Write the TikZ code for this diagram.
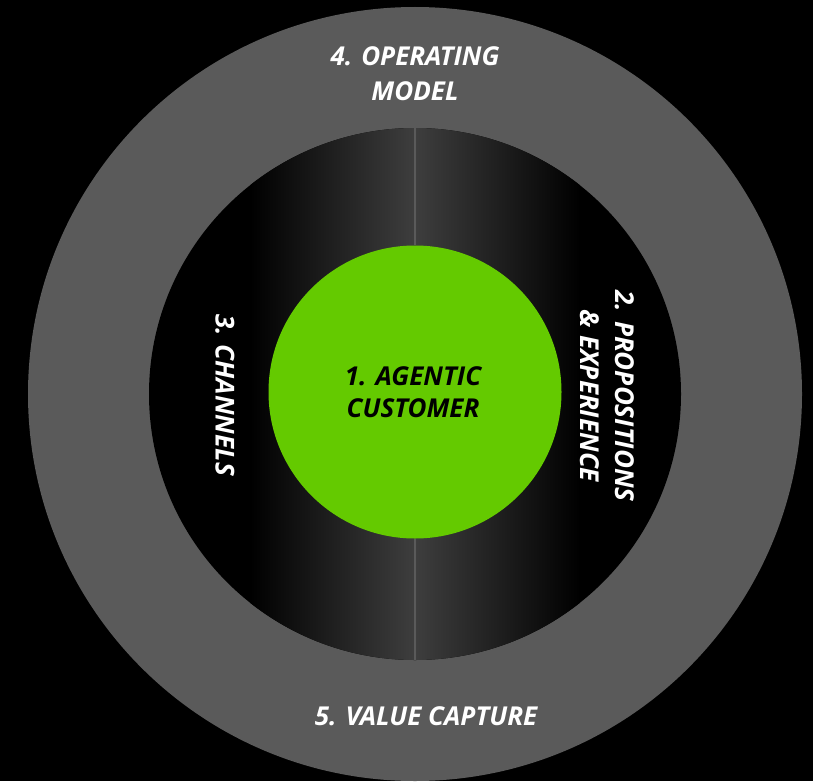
\documentclass[tikz,border=0pt]{standalone}
\usepackage{fontspec}
\setmainfont{Open Sans}
\definecolor{ringgray}{HTML}{5A5A5A}
\definecolor{innergray}{HTML}{3E3E3E}
\definecolor{coregreen}{HTML}{64CA00}
\tikzset{
  label text/.style={text=white, font=\fontsize{26}{35}\selectfont\bfseries\itshape, align=center, inner sep=0pt},
  core text/.style={text=black, font=\fontsize{26}{32}\selectfont\bfseries\itshape, align=center},
  divider/.style={draw=ringgray, line width=1.6pt}
}
\begin{document}
\begin{tikzpicture}[x=1pt,y=-1pt]
  \useasboundingbox (0,0) rectangle (813,781);
  \fill[black] (0,0) rectangle (813,781);
  % outer ring: operating model / value capture
  \fill[ringgray] (415,394) circle (387pt);
  % middle disc with the two shaded halves
  \begin{scope}
    \clip (415,394) circle (266pt);
    \fill[black] (148,127) rectangle (682,661);
    \shade[left color=black, right color=innergray] (250,127) rectangle (415,661);
    \shade[left color=innergray, right color=black] (415,127) rectangle (580,661);
  \end{scope}
  \coordinate (divtop) at (415,128);
  \coordinate (divbot) at (415,660);
  % centre disc
  \node[circle, fill=coregreen, minimum size=293pt, inner sep=0pt] (core) at (415,392) {};
  \draw[divider] (divtop) -- (core.north);
  \draw[divider] (core.south) -- (divbot);
  \node[core text] (coretxt) at (413,392) {1. AGENTIC\\CUSTOMER};
  % ring and half labels
  \node[label text] (opmodel) at (415,74) {4. OPERATING\\MODEL};
  \node[label text] (value) at (426,716) {5. VALUE CAPTURE};
  \node[label text, rotate=-90] (channels) at (225,395) {3. CHANNELS};
  \node[label text, rotate=-90] (props) at (607,396) {2. PROPOSITIONS\\\& EXPERIENCE};
\end{tikzpicture}
\end{document}
